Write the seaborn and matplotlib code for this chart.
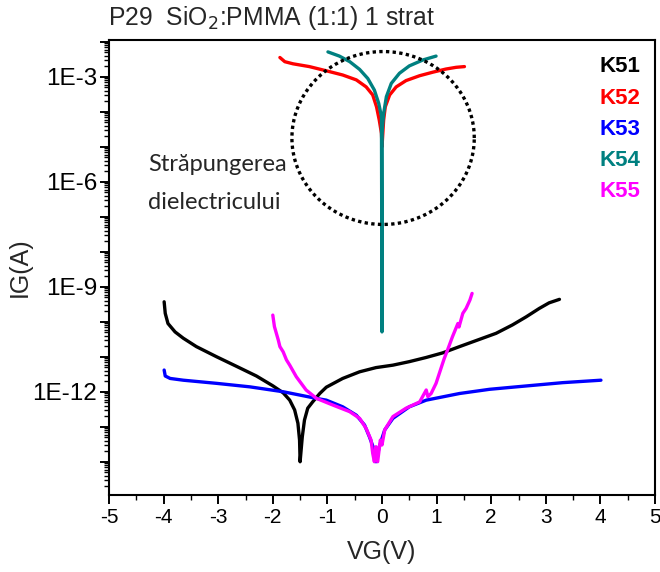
import numpy as np
import pandas as pd
import matplotlib
matplotlib.use("Agg")
import matplotlib.pyplot as plt
import matplotlib.ticker as mticker
import seaborn as sns

# Gate current sweeps: VG (V) and log10(IG / A) for each device
k51_vg = [-3.99, -3.97, -3.92, -3.79, -3.64, -3.40, -3.03, -2.67, -2.30, -2.00, -1.81, -1.69,
          -1.60, -1.54, -1.51, -1.50, -1.46, -1.42, -1.36, -1.27, -1.14, -1.02, -0.72, -0.41,
          -0.11, 0.20, 0.50, 0.81, 1.11, 1.42, 1.72, 2.09, 2.39, 2.64, 2.88, 3.06, 3.25]
k51_log = [-9.43, -9.76, -10.05, -10.29, -10.47, -10.71, -11.00, -11.27, -11.55, -11.83, -12.03, -12.24,
           -12.52, -12.90, -13.38, -14.00, -13.29, -12.81, -12.47, -12.29, -12.05, -11.87, -11.62, -11.43,
           -11.31, -11.24, -11.14, -11.02, -10.89, -10.71, -10.54, -10.33, -10.09, -9.86, -9.62, -9.46, -9.36]

k52_vg = [-1.87, -1.78, -1.63, -1.33, -1.02, -0.72, -0.47, -0.29, -0.17, -0.10, -0.05, -0.01,
          0.00, 0.03, 0.06, 0.14, 0.26, 0.44, 0.69, 0.93, 1.17, 1.36, 1.51]
k52_log = [-2.45, -2.57, -2.63, -2.71, -2.83, -2.95, -3.09, -3.29, -3.52, -3.86, -4.24, -4.62,
           -5.00, -4.24, -3.86, -3.52, -3.29, -3.11, -2.97, -2.87, -2.78, -2.73, -2.71]

k53_vg = [-3.99, -3.97, -3.88, -3.64, -3.03, -2.42, -1.81, -1.20, -1.02, -0.72, -0.47, -0.32,
          -0.23, -0.14, -0.11, -0.05, 0.05, 0.20, 0.50, 0.81, 1.42, 1.97, 2.39, 3.31, 4.01]
k53_log = [-11.38, -11.55, -11.62, -11.67, -11.76, -11.86, -12.00, -12.19, -12.24, -12.43, -12.67, -12.95,
           -13.29, -13.67, -14.00, -13.57, -13.09, -12.76, -12.43, -12.24, -12.05, -11.93, -11.87, -11.74, -11.67]

k54_vg = [-0.99, -0.78, -0.59, -0.41, -0.26, -0.14, -0.06, -0.01, 0.00, 0.00, 0.03, 0.08,
          0.17, 0.32, 0.50, 0.75, 0.99]
k54_log = [-2.29, -2.41, -2.57, -2.79, -3.05, -3.38, -3.76, -4.14, -10.29, -4.60, -4.05, -3.57,
           -3.19, -2.90, -2.69, -2.52, -2.41]

k55_vg = [-2.00, -1.97, -1.90, -1.87, -1.81, -1.75, -1.69, -1.57, -1.39, -1.20, -0.90, -0.59,
          -0.41, -0.29, -0.20, -0.17, -0.14, -0.11, -0.08, -0.03, 0.00, 0.05, 0.20, 0.44,
          0.69, 0.81, 0.84, 0.90, 0.99, 1.11, 1.14, 1.20, 1.29, 1.39, 1.41, 1.48, 1.54, 1.61, 1.65]
k55_log = [-9.81, -10.14, -10.52, -10.71, -10.86, -11.09, -11.24, -11.57, -11.95, -12.19, -12.38, -12.57,
           -12.76, -13.05, -13.38, -13.76, -14.00, -13.57, -14.00, -13.38, -13.52, -13.09, -12.71, -12.47,
           -12.29, -11.95, -12.14, -12.05, -11.76, -11.19, -11.05, -10.81, -10.43, -10.05, -10.15, -9.76, -9.62, -9.38, -9.19]

series_names = ["K51", "K52", "K53", "K54", "K55"]
series_colors = ["#000000", "#ff0000", "#0000ff", "#008080", "#ff00ff"]
series_vg = [k51_vg, k52_vg, k53_vg, k54_vg, k55_vg]
series_log = [k51_log, k52_log, k53_log, k54_log, k55_log]

frames = []
for name, vg, lg in zip(series_names, series_vg, series_log):
    frames.append(pd.DataFrame({"VG": vg, "IG": np.power(10.0, lg), "device": name}))
df = pd.concat(frames, ignore_index=True)

sns.set_style("ticks")
plt.rcParams["font.family"] = ["Liberation Sans", "DejaVu Sans"]

fig = plt.figure(figsize=(6.6, 5.72), dpi=100)
ax = fig.add_axes([109 / 660, 1 - 495 / 572, 546 / 660, 455 / 572])

sns.lineplot(data=df, x="VG", y="IG", hue="device",
             palette=dict(zip(series_names, series_colors)), sort=False, estimator=None,
             linewidth=2.4, legend=False, ax=ax)

ax.set_yscale("log")
ax.set_xlim(-5, 5)
ax.set_ylim(10 ** -14.95, 10 ** -1.95)

# Dotted ellipse around the breakdown region
t = np.linspace(0, 2 * np.pi, 400)
ex = 0.02 + 1.67 * np.cos(t)
ey = np.power(10.0, -4.75 + 2.47 * np.sin(t))
ax.plot(ex, ey, color="black", linewidth=2.4, linestyle=(0, (1.0, 1.0)),
        dash_capstyle="butt")

note_font = ["Lato", "DejaVu Sans"]
ax.text(-4.29, 10 ** -5.52, "Străpungerea", fontsize=17, family=note_font,
        ha="left", va="center")
ax.text(-4.29, 10 ** -6.58, "dielectricului", fontsize=17, family=note_font,
        ha="left", va="center")

# Device labels as a coloured text key
for i, (name, col) in enumerate(zip(series_names, series_colors)):
    ax.text(0.974, 0.941 - i * 0.0686, name, color=col, fontsize=16, fontweight="bold",
            transform=ax.transAxes, ha="right", va="center")

ax.xaxis.set_major_locator(mticker.MultipleLocator(1))
ax.xaxis.set_minor_locator(mticker.MultipleLocator(0.5))
ax.xaxis.set_major_formatter(mticker.FuncFormatter(lambda v, p: f"{int(round(v))}"))
ax.yaxis.set_major_locator(mticker.LogLocator(base=10, subs=(1.0,), numticks=30))
ax.yaxis.set_minor_locator(mticker.LogLocator(base=10, subs=np.arange(2, 10), numticks=30))


def ylab(v, p):
    e = int(round(np.log10(v)))
    return f"1E{e}" if e % 3 == 0 else ""


ax.yaxis.set_major_formatter(mticker.FuncFormatter(ylab))
ax.yaxis.set_minor_formatter(mticker.NullFormatter())

ax.tick_params(axis="both", which="major", direction="out", length=6.5, width=1.4,
               color="black", labelcolor="black", pad=3)
ax.tick_params(axis="x", which="major", labelsize=15)
ax.tick_params(axis="y", which="major", labelsize=17.5, pad=2)
ax.tick_params(axis="both", which="minor", direction="out", length=3.5, width=1.0, color="black")
for s in ax.spines.values():
    s.set_color("black")
    s.set_linewidth(1.5)

ax.set_xlabel("VG(V)", fontsize=18, labelpad=9)
ax.set_ylabel("IG(A)", fontsize=18)
ax.yaxis.set_label_coords(-0.141, 0.5)
ax.grid(False)

fig.text(108 / 660, 1 - 18 / 572, "P29  SiO$_2$:PMMA (1:1) 1 strat", fontsize=17.8,
         ha="left", va="center")

fig.savefig("out.png", dpi=100)
